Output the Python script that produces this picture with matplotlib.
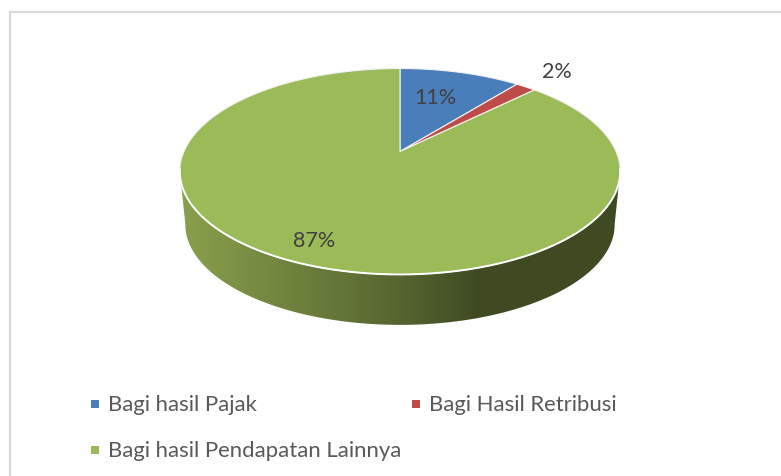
import numpy as np
import matplotlib
matplotlib.use('Agg')
import matplotlib.pyplot as plt
from matplotlib.colors import LinearSegmentedColormap
from matplotlib.patches import Polygon

labels = ['Bagi hasil Pajak', 'Bagi Hasil Retribusi', 'Bagi hasil Pendapatan Lainnya']
values = [10.7, 1.8, 87.4]
colors = ['#4A7EBB', '#BE4B48', '#9BBB59']

plt.rcParams['font.family'] = ['Lato', 'DejaVu Sans']


def project(theta, scale=1.0, dy=0.0):
    # tilted disc: circle angle (clockwise from top) to pixel position
    k = 0.194
    x = np.sin(theta)
    y = np.cos(theta)
    w = 1 + k * y
    return 400 + 216 * scale * x / w, 152.5 + dy - 99.1 * scale * y / w


fig = plt.figure(figsize=(7.81, 4.77), dpi=100)
ax = fig.add_axes([0, 0, 1, 1])
ax.axis('off')

# frame of the chart area
ax.plot([9.5, 9.5, 781], [477, 13, 13], color='#D9D9D9', lw=1.6, solid_joinstyle='miter')

# side of the disc, dark gradient running left to right
side_cmap = LinearSegmentedColormap.from_list('side', [(0, '#88A04C'), (0.5, '#56652F'), (0.68, '#3F4A22'), (1, '#3F4A22')])
t = np.radians(np.linspace(101, 259, 300))
x1, y1 = project(t)
x2, y2 = project(t, 0.975, 53.5)
side = Polygon(np.column_stack([np.r_[x1, x2[::-1]], np.r_[y1, y2[::-1]]]), closed=True, facecolor='none', edgecolor='none')
ax.add_patch(side)
im = ax.imshow(np.linspace(0, 1, 440).reshape(1, -1), cmap=side_cmap, extent=(180, 620, 340, 150), aspect='auto', zorder=2)
im.set_clip_path(side)

ax.set_xlim(0, 781)
ax.set_ylim(477, 0)

# top of the disc, one wedge per value
total = sum(values)
start = 0
for value, color in zip(values, colors):
    a = np.radians(np.linspace(start, start + 360 * value / total, 300))
    xs, ys = project(a)
    pts = [(400, 152.5)] + list(zip(xs, ys))
    ax.add_patch(Polygon(pts, closed=True, facecolor=color, edgecolor='#F2F2F2', lw=0.8, zorder=3))
    start += 360 * value / total

# white highlight along the front rim
a = np.radians(np.linspace(100, 260, 300))
xs, ys = project(a)
ax.plot(xs, ys, color='white', lw=1.4, zorder=4)

# data labels
label_x = [435, 557, 314]
label_y = [97.5, 71.5, 241.5]
for value, lx, ly in zip(values, label_x, label_y):
    ax.text(lx, ly, f'{round(value)}%', ha='center', va='center', fontsize=15.5, color='#404040', zorder=5)

# legend
legend_x = [95, 416, 95]
legend_y = [405, 405, 451]
for lab, color, lx, ly in zip(labels, colors, legend_x, legend_y):
    ax.plot([lx], [ly], marker='s', ms=5.6, color=color, mew=0)
    ax.text(lx + 13, ly, lab, ha='left', va='center', fontsize=15.9, color='#595959')

fig.savefig('out.png', dpi=100)
